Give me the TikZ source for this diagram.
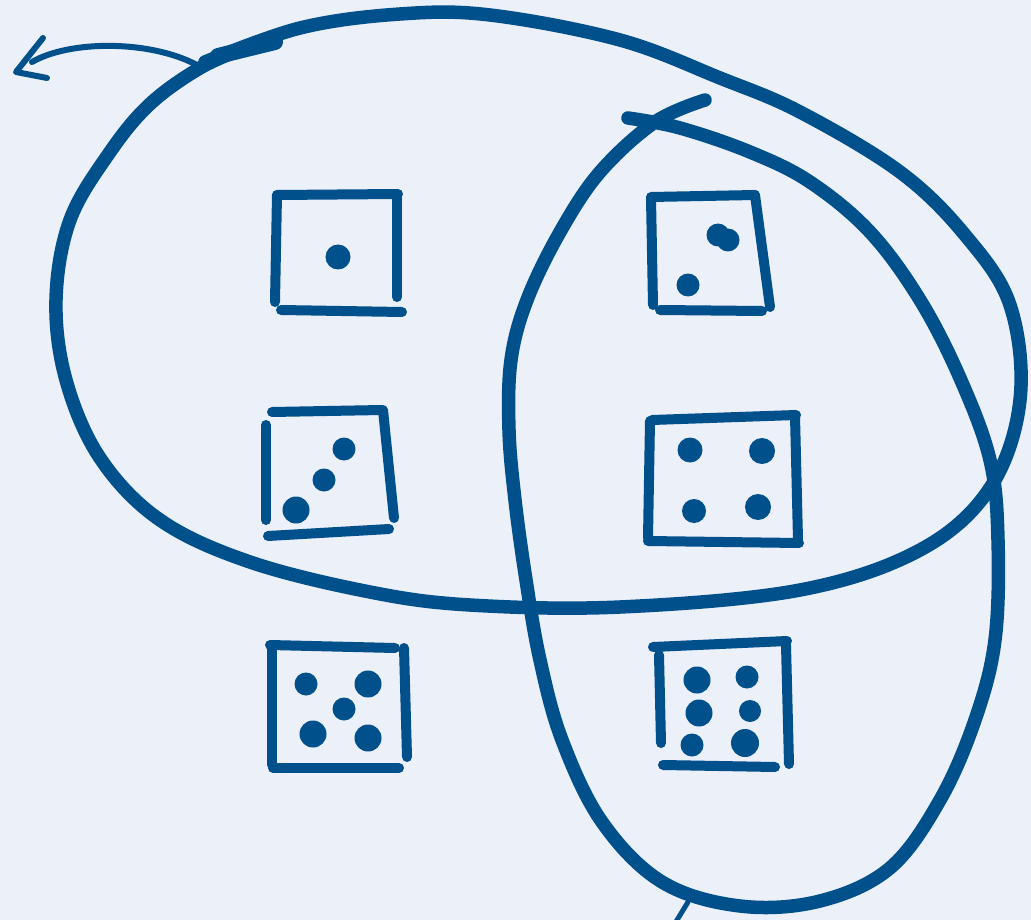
\documentclass[tikz,border=0pt]{standalone}
\definecolor{bg}{RGB}{235,240,249}
\definecolor{ink}{RGB}{0,80,140}
\begin{document}
\begin{tikzpicture}[x=1pt,y=-1pt,line cap=round,line join=round,
  loopline/.style={draw=ink,line width=13.5pt},
  dieline/.style={draw=ink,line width=10pt},
  pip/.style={fill=ink},
  arrowline/.style={draw=ink,line width=6pt}]
\fill[bg] (0,0) rectangle (1031,920);
\useasboundingbox (0,0) rectangle (1031,920);
% big loop 1
\draw[loopline] plot[smooth,tension=0.6] coordinates {(205,62) (300,28) (400,14) (490,15) (620,40) (720,78) (800,112) (900,172) (965,235) (1010,305) (1020,400) (990,488) (920,550) (800,590) (620,607) (470,605) (370,592) (250,562) (160,520) (100,458) (66,380) (56,300) (70,220) (110,152) (150,104) (200,68) (245,48)};
\draw[ink,line width=16pt] (218,56) -- (275,42);
% arrow
\draw[arrowline] (197,65) .. controls (150,40) and (70,40) .. (32,62);
\draw[arrowline] (43,38) -- (16,72) -- (47,78);
% big loop 2
\draw[loopline] plot[smooth,tension=0.6] coordinates {(705,100) (655,122) (600,172) (560,232) (527,300) (511,360) (509,430) (515,500) (526,580) (540,660) (562,740) (602,822) (662,882) (740,906) (820,901) (890,868) (940,800) (975,720) (995,640) (998,540) (990,460) (960,378) (920,300) (870,232) (810,182) (750,152) (680,128) (628,118)};
\draw[ink,line width=5pt] (688,902) -- (674,925);
% die 1
\draw[dieline] (277,195) -- (275,302);
\draw[dieline] (277,195) -- (398,194);
\draw[dieline] (397,194) -- (397,297);
\draw[dieline] (281,310) -- (402,312);
\fill[pip] (338,257) circle (12.5);
% die 2
\draw[dieline] (651,198) -- (653,305);
\draw[dieline] (651,197) -- (755,195);
\draw[dieline] (755,195) -- (770,307);
\draw[dieline] (660,310) -- (762,311);
\fill[pip] (718,235) circle (11.5);
\fill[pip] (728,240) circle (11.5);
\fill[pip] (688,285) circle (11.5);
% die 3
\draw[dieline] (266,425) -- (266,520);
\draw[dieline] (272,412) -- (382,410);
\draw[dieline] (383,410) -- (394,518);
\draw[dieline] (268,536) -- (389,529);
\fill[pip] (344,449) circle (11.5);
\fill[pip] (324,480) circle (11.5);
\fill[pip] (296,510) circle (13.5);
% die 4
\draw[dieline] (652,420) -- (796,415);
\draw[dieline] (650,421) -- (648,538);
\draw[dieline] (795,416) -- (798,540);
\draw[dieline] (648,541) -- (799,543);
\fill[pip] (690,450) circle (12.5);
\fill[pip] (762,451) circle (13);
\fill[pip] (694,511) circle (12);
\fill[pip] (758,507) circle (13);
% die 5
\draw[dieline] (270,645) -- (395,648);
\draw[dieline] (272,647) -- (272,765);
\draw[dieline] (404,648) -- (407,757);
\draw[dieline] (273,768) -- (399,768);
\fill[pip] (306,684) circle (11.5);
\fill[pip] (368,684) circle (13.5);
\fill[pip] (344,709) circle (11.5);
\fill[pip] (313,734) circle (13.5);
\fill[pip] (368,738) circle (13.5);
% die 6
\draw[dieline] (653,647) -- (787,641);
\draw[dieline] (659,655) -- (661,743);
\draw[dieline] (786,645) -- (789,764);
\draw[dieline] (663,765) -- (775,767);
\fill[pip] (697,680) circle (13.5);
\fill[pip] (747,677) circle (11.5);
\fill[pip] (699,713) circle (13.5);
\fill[pip] (750,711) circle (11);
\fill[pip] (692,745) circle (11.5);
\fill[pip] (745,743) circle (14);
\end{tikzpicture}
\end{document}
